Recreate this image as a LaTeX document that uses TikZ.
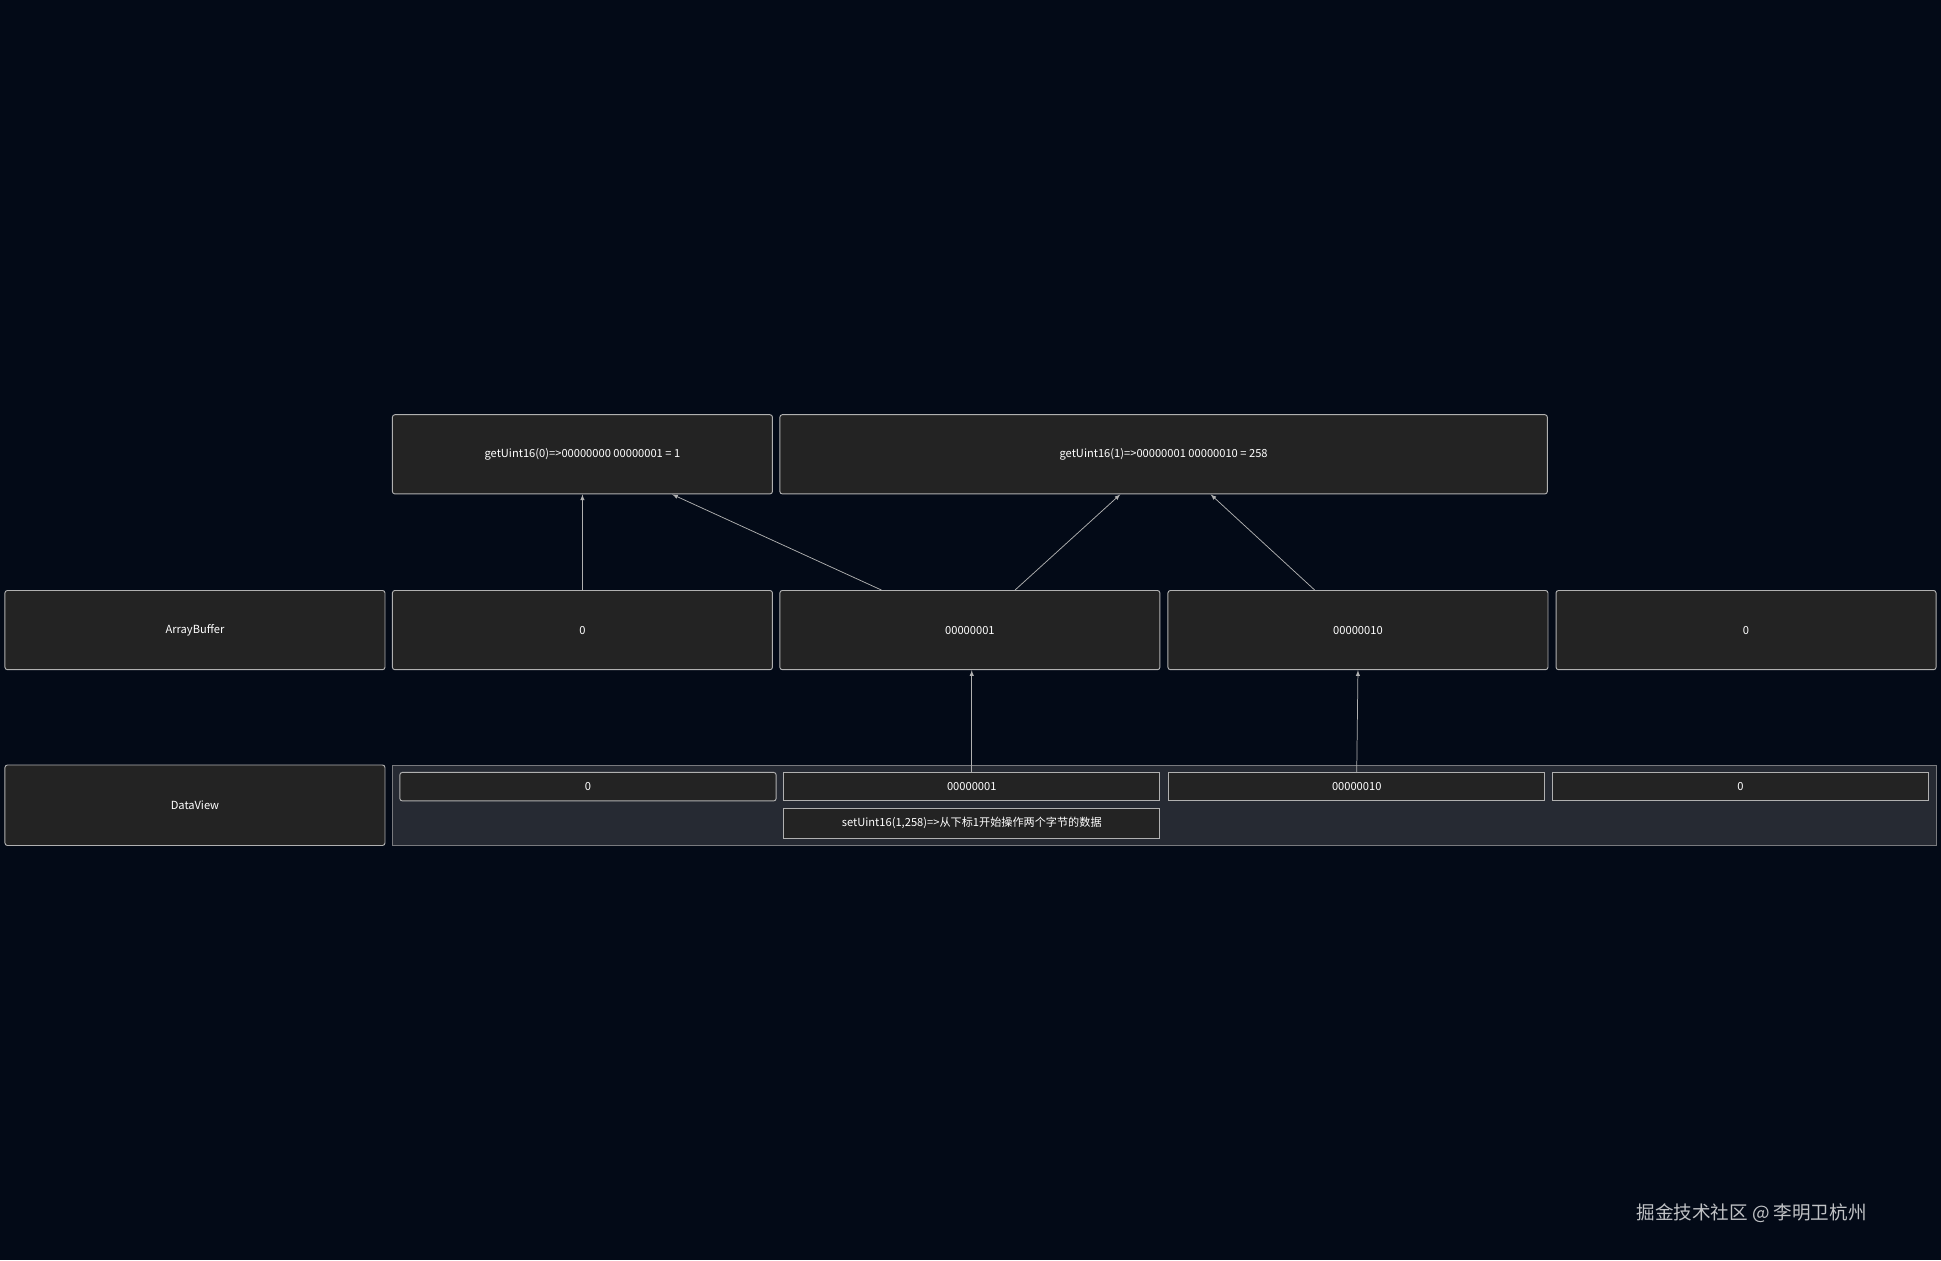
\documentclass[tikz,border=0pt]{standalone}
\usepackage{fontspec}
\setmainfont{Noto Sans CJK SC}
\tikzset{every picture/.style={line width=0.75pt}}
\definecolor{bgdark}{HTML}{030A17}
\definecolor{cellfill}{HTML}{232323}
\definecolor{cellline}{HTML}{B0B0B0}
\definecolor{groupfill}{HTML}{262A33}
\tikzset{
	cell/.style={draw=cellline, fill=cellfill, text=white, rounded corners=2pt, inner sep=0pt, font=\fontsize{9}{11}\selectfont},
	link/.style={draw=cellline, line width=0.6pt, -latex}}
\begin{document}
\begin{tikzpicture}[x=1pt,y=-1pt]
	\fill[bgdark] (0,0) rectangle (1568,1018);

	% top results
	\node[cell, minimum width=307, minimum height=64] (get0) at (470.5,367) {getUint16(0)=>00000000 00000001 = 1};
	\node[cell, minimum width=620, minimum height=64] (get1) at (940,367) {getUint16(1)=>00000001 00000010 = 258};

	% ArrayBuffer row
	\node[cell, minimum width=307, minimum height=64] (abLabel) at (157.5,509) {ArrayBuffer};
	\node[cell, minimum width=307, minimum height=64] (buf0) at (470.5,509) {0};
	\node[cell, minimum width=307, minimum height=64] (buf1) at (783.5,509) {00000001};
	\node[cell, minimum width=307, minimum height=64] (buf2) at (1097,509) {00000010};
	\node[cell, minimum width=307, minimum height=64] (buf3) at (1410.5,509) {0};

	% DataView row
	\node[cell, minimum width=307, minimum height=65] (dvLabel) at (157.5,650.5) {DataView};
	\node[draw=cellline!60!groupfill, fill=groupfill, minimum width=1247, minimum height=65] (dvGroup) at (940.5,650.5) {};
	\node[cell, minimum width=304, minimum height=23] (dv0) at (475,635.5) {0};
	\node[cell, minimum width=304, minimum height=23, rounded corners=0pt] (dv1) at (785,635.5) {00000001};
	\node[cell, minimum width=304, minimum height=23, rounded corners=0pt] (dv2) at (1096,635.5) {00000010};
	\node[cell, minimum width=304, minimum height=23, rounded corners=0pt] (dv3) at (1406,635.5) {0};
	\node[cell, minimum width=304, minimum height=24, rounded corners=0pt] (setNote) at (785,665) {setUint16(1,258)=>从下标1开始操作两个字节的数据};

	% connectors
	\draw[link] (buf0.north) -- (get0.south);
	\draw[link] ([xshift=-71.5]buf1.north) -- ([xshift=72.5]get0.south);
	\draw[link] ([xshift=36.5]buf1.north) -- ([xshift=-35]get1.south);
	\draw[link] ([xshift=-35]buf2.north) -- ([xshift=38]get1.south);
	\draw[link] (dv1.north) -- ([xshift=1.5]buf1.south);
	\draw[link] (dv2.north) -- (buf2.south);

	\node[text=white!75!bgdark, font=\fontsize{15}{18}\selectfont] (mark) at (1415,980) {掘金技术社区 @ 李明卫杭州};
\end{tikzpicture}
\end{document}
